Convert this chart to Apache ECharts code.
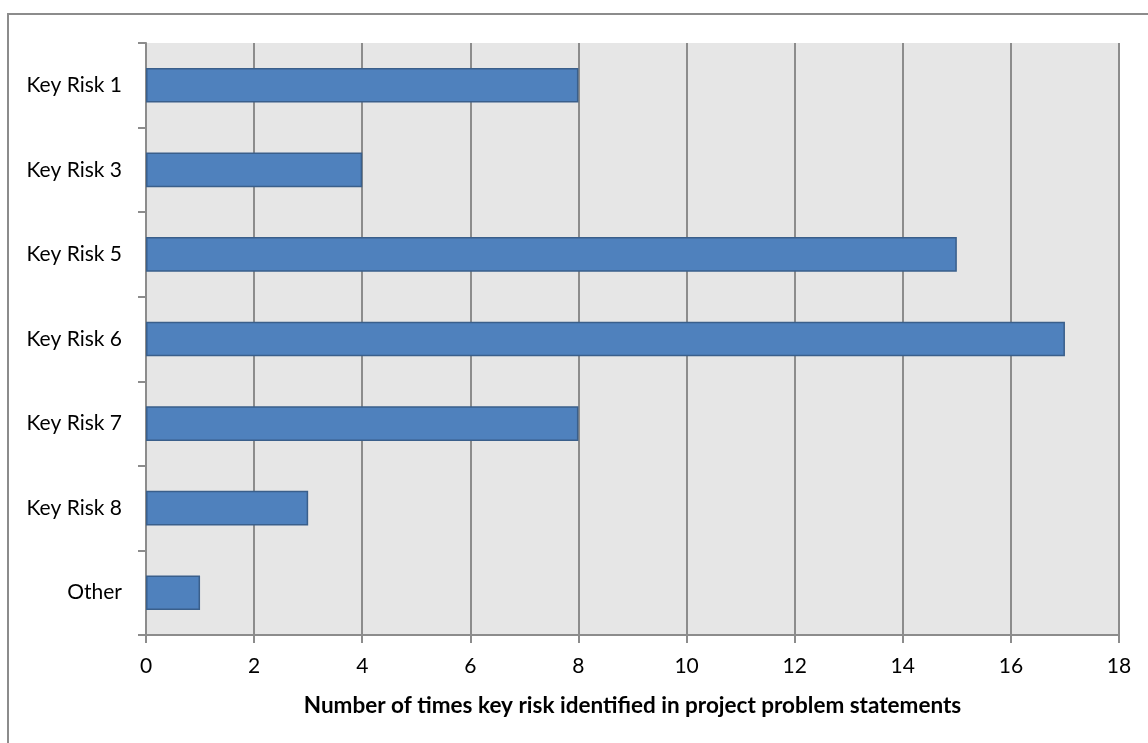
<!DOCTYPE html>
<html>
<head>
<meta charset="utf-8">
<script src="https://cdn.jsdelivr.net/npm/echarts@6/dist/echarts.min.js"></script>
<style>
  html, body { margin: 0; padding: 0; background: #fff; }
  #chart { width: 1148px; height: 743px; }
</style>
</head>
<body>
<div id="chart"></div>
<script>
// Key risk categories, listed top to bottom
const categories = ['Key Risk 1', 'Key Risk 3', 'Key Risk 5', 'Key Risk 6', 'Key Risk 7', 'Key Risk 8', 'Other'];
// Count of problem statements naming each risk
const counts = [8, 4, 15, 17, 8, 3, 1];
const xTitle = 'Number of times key risk identified in project problem statements';

const FONT = 'Lato, "Open Sans", sans-serif';
const chart = echarts.init(document.getElementById('chart'), null, { renderer: 'canvas' });

chart.setOption({
  animation: false,
  backgroundColor: '#ffffff',
  graphic: [{
    type: 'rect',
    shape: { x: 8, y: 14, width: 1300, height: 900 },
    style: { fill: 'none', stroke: '#8c8c8c', lineWidth: 2 },
    silent: true
  }],
  grid: {
    left: 146, right: 29, top: 43, bottom: 108,
    show: true, backgroundColor: '#e6e6e6', borderWidth: 0
  },
  xAxis: {
    type: 'value',
    min: 0, max: 18, interval: 2,
    name: xTitle,
    nameLocation: 'middle',
    nameGap: 59,
    nameTextStyle: { fontFamily: FONT, fontSize: 22.5, fontWeight: 'bold', color: '#000' },
    axisLine: { show: true, lineStyle: { color: '#8c8c8c', width: 2 } },
    axisTick: { show: true, length: 8, lineStyle: { color: '#8c8c8c', width: 2 } },
    axisLabel: { fontFamily: FONT, fontSize: 21, color: '#000', margin: 21 },
    splitLine: { show: true, lineStyle: { color: '#8c8c8c', width: 2 } }
  },
  yAxis: {
    type: 'category',
    data: categories,
    inverse: true,
    axisLine: { show: true, lineStyle: { color: '#8c8c8c', width: 2 } },
    axisTick: { show: true, length: 8, lineStyle: { color: '#8c8c8c', width: 2 } },
    axisLabel: { fontFamily: FONT, fontSize: 21, color: '#000', margin: 24 },
    splitLine: { show: false }
  },
  series: [{
    type: 'bar',
    data: counts,
    barWidth: '41%',
    itemStyle: { color: '#4f81bd', borderColor: '#3a5f8b', borderWidth: 1.5 }
  }]
});
</script>
</body>
</html>
